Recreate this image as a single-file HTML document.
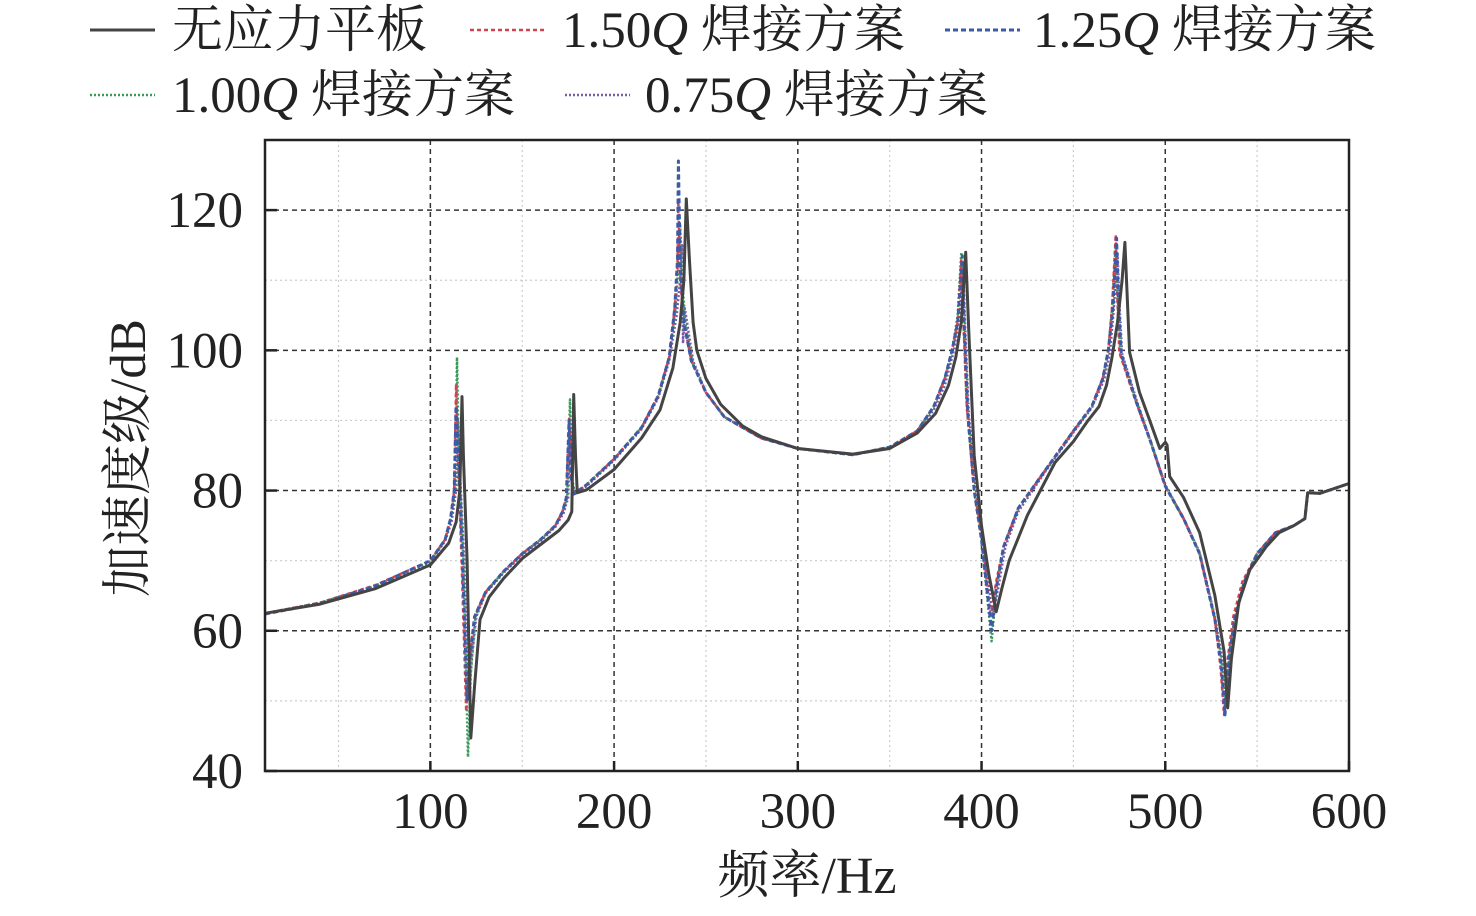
<!DOCTYPE html>
<html><head><meta charset="utf-8"><style>
body{margin:0;background:#fff;width:1476px;height:911px;overflow:hidden}
svg text{font-family:"Liberation Serif","Noto Serif CJK SC",serif;fill:#222}
</style></head><body>
<svg id="chart" width="1476" height="911" xmlns="http://www.w3.org/2000/svg">
<g id="grid"></g>
<g id="series"></g>
<rect x="265" y="140" width="1084" height="631" fill="none" stroke="#222" stroke-width="2.5"/>
<g id="ticks"></g>
<text x="807" y="893" font-size="52" text-anchor="middle">频率/Hz</text>
<text transform="translate(145,458) rotate(-90)" font-size="51" text-anchor="middle">加速度级/dB</text>
<g font-size="51">
 <g><line x1="90" y1="30" x2="155" y2="30" stroke="#444" stroke-width="3"/><text x="172" y="47">无应力平板</text></g>
 <g><line x1="470" y1="30" x2="545" y2="30" stroke="#d0424f" stroke-width="2.5" stroke-dasharray="4,3"/><text x="562" y="47">1.50<tspan font-style="italic">Q</tspan> 焊接方案</text></g>
 <g><line x1="945" y1="30" x2="1020" y2="30" stroke="#3c5aa6" stroke-width="3" stroke-dasharray="5,3"/><text x="1033" y="47">1.25<tspan font-style="italic">Q</tspan> 焊接方案</text></g>
 <g><line x1="90" y1="95" x2="155" y2="95" stroke="#3a9a5a" stroke-width="2.5" stroke-dasharray="2,2"/><text x="172" y="112">1.00<tspan font-style="italic">Q</tspan> 焊接方案</text></g>
 <g><line x1="565" y1="95" x2="630" y2="95" stroke="#7a5aa6" stroke-width="2.5" stroke-dasharray="2,2"/><text x="645" y="112">0.75<tspan font-style="italic">Q</tspan> 焊接方案</text></g>
</g>
</svg>
<script>
const xTicks=[100,200,300,400,500,600];
const yTicks=[40,60,80,100,120];
const xMinor=[50,150,250,350,450,550];
const yMinor=[50,70,90,110,130];
const flatPlate=[[10,62.5],[40,63.8],[70,66],[100,69.4],[110,72.5],[114,75.5],[116,80],[117.2,93.4],[118,85],[120,70],[122,44.7],[124,52],[127,61.6],[132,64.8],[140,67.5],[150,70.3],[160,72.3],[170,74.3],[175,75.8],[177,77],[178,93.7],[179,85],[180,79.7],[185,80.1],[200,83],[215,87.5],[225,91.5],[232,97.5],[236,104],[238,110],[239.3,121.6],[241,113],[243,104],[245,100],[250,96],[258,92.3],[270,89.2],[280,87.7],[300,86],[330,85.2],[350,86],[365,88.2],[375,91],[382,95],[386,99],[389,104],[391.4,114],[393,103],[396,85],[400,75],[404,68],[408,62.7],[411,66],[415,70],[425,76.5],[440,84],[450,87],[458,90],[464,92],[468,95],[471,99],[474,104],[476.5,110],[478,115.4],[480.6,99.7],[486,94],[491.5,90],[497,86],[500,86.9],[501,86.5],[502.4,82],[510,79],[518.7,74],[527,65],[532,57],[534,49],[536,56],[540,64],[546,68.7],[555,72],[562,74],[570,75],[576,76],[577.5,79.7],[584,79.6],[592,80.3],[600,81]];
const weld150=[[10,62.5],[40,64],[70,66.5],[100,70],[108,73],[111,76],[113,80],[114,95.2],[115,85],[117,70],[119.5,48.5],[121,55],[124,62],[130,65.5],[140,68.5],[150,71],[160,73],[168,75],[172,77],[174,79],[175.5,90.5],[176.5,82],[178,79.5],[185,80.8],[200,84.5],[215,89],[224,93.5],[230,99],[233,106],[234.5,112],[235,121],[236,110],[238,104],[242,98.5],[250,94],[260,90.5],[280,87.5],[300,86],[330,85.1],[350,86.2],[365,88.5],[374,92],[380,96],[384,100],[387,104],[389,113],[390,105],[392,92],[396,80],[400,74],[405,62],[408,67],[412,72],[420,77.5],[435,83],[450,88.5],[460,92],[466,96],[469,100],[471,106],[473,116.5],[474,107],[475,99.7],[483.6,93],[491.5,87.3],[500,80.6],[510,76],[518.7,71],[527,61.6],[530,55],[532,48],[534,56],[537,62],[542,67],[550,71],[560,74],[570,75],[576,76],[577.5,79.7],[584,79.6],[592,80.3],[600,81]];
const weld125=[[10,62.4],[40,63.9],[70,66.4],[100,70],[108,73],[111,76],[113,80],[114,92],[115.5,84],[117.5,70],[120,50],[121.5,56],[124,62],[130,65.5],[140,68.5],[150,71],[160,73],[168,75],[172,77],[174,79],[175.5,90],[176.5,82],[178,79.5],[185,80.8],[200,84.5],[215,89],[224,93.5],[230,99],[233,106],[234.5,113],[235,127],[236,112],[238,104],[242,98.5],[250,94],[260,90.5],[280,87.5],[300,86],[330,85.1],[350,86.2],[365,88.5],[374,92],[380,96],[384,100],[387,104],[389.5,113.5],[390.5,104],[392.5,91],[396,80],[400,73],[405.5,60],[408,66],[412,72],[420,77.5],[435,83],[450,88.5],[460,92],[466,96],[469,100],[471.5,106],[473.5,116],[474.5,107],[476,99.5],[484,92.8],[492,87],[500,80.6],[510,76],[518.7,71],[527,61.6],[530.5,55],[532.5,48],[534.5,56],[538,62],[543,67],[550,71],[560,74],[570,75],[576,76],[577.5,79.7],[584,79.6],[592,80.3],[600,81]];
const weld100=[[10,62.5],[40,64],[70,66.4],[100,69.9],[108,73],[111,76],[113.5,80],[114.5,99],[115.5,85],[118,70],[120.5,42],[122,54],[124.5,62],[130,65.5],[140,68.5],[150,71],[160,73],[168,75],[172,77],[174.5,79],[176,93],[177,82],[178.5,79.5],[185,80.8],[200,84.5],[215,89],[224,93.5],[230,99],[233.5,106],[235,112],[236,118],[237,110],[239,103.5],[243,98],[250,94],[260,90.5],[280,87.5],[300,86],[330,85.1],[350,86.2],[365,88.5],[374,92],[380,96],[384,100],[387,105],[389,114],[390,105],[392,92],[396,80],[400,73],[405.5,58.5],[408,66],[412,72],[420,77.5],[435,83],[450,88.5],[460,92],[466,96],[469,100],[471,106],[473,115],[474,107],[475.5,99.5],[484,92.8],[492,87],[500,80.6],[510,76],[518.7,71],[527,61.6],[530.5,56],[533,50],[535,57],[538,62],[543,67],[550,71],[560,74],[570,75],[576,76],[577.5,79.7],[584,79.6],[592,80.3],[600,81]];
const weld075=[[10,62.5],[40,63.9],[70,66.3],[100,69.8],[108,72.8],[111.5,75.5],[114,80],[115,90],[116,83],[118.5,70],[121,50],[122.5,56],[125,62],[130,65.3],[140,68.3],[150,70.8],[160,72.8],[168,74.8],[172.5,76.8],[175,79],[176,88],[177,82],[178.5,79.5],[185,80.6],[200,84.3],[215,88.8],[224,93.2],[230,98.5],[234,105],[236,110],[237,115],[237.5,101],[238.5,106],[243,98.5],[250,94],[260,90.5],[280,87.5],[300,86],[330,85.2],[350,86.1],[365,88.3],[374,91.5],[380,95],[385,100],[388,105],[390,112],[391,104],[393,91],[397,80],[401,73],[406,62],[409,66],[413,72],[420,77],[435,82.8],[450,88.3],[460,91.8],[467,96],[470,100],[472,106],[474,114],[475,107],[476.5,99.5],[484.5,92.8],[492,87],[500,80.8],[510,76],[518.7,71.2],[527,62],[531,56],[533.5,51],[535.5,57],[538.5,62],[543,67],[550,71],[560,74],[570,75],[576,76],[577.5,79.7],[584,79.6],[592,80.3],[600,81]];

const NS="http://www.w3.org/2000/svg";
const X0=265,X1=1349,Y0=771,Y1=140,FMIN=10,FMAX=600,DMIN=40,DMAX=130;
function sx(f){return X0+(f-FMIN)/(FMAX-FMIN)*(X1-X0);}
function sy(d){return Y0-(d-DMIN)/(DMAX-DMIN)*(Y0-Y1);}
function mk(tag,attrs,parent){const e=document.createElementNS(NS,tag);for(const k in attrs)e.setAttribute(k,attrs[k]);parent.appendChild(e);return e;}
const grid=document.getElementById('grid'),ticks=document.getElementById('ticks'),ser=document.getElementById('series');
xMinor.forEach(v=>{const l=mk('line',{x1:sx(v),x2:sx(v),y1:Y1,y2:Y0,stroke:'#ccc','stroke-width':1.2,'stroke-dasharray':'2,3'},grid);

});
yMinor.forEach(v=>{const l=mk('line',{x1:X0,x2:X1,y1:sy(v),y2:sy(v),stroke:'#ccc','stroke-width':1.2,'stroke-dasharray':'2,3'},grid);

});
xTicks.forEach(v=>{const l=mk('line',{x1:sx(v),x2:sx(v),y1:Y1,y2:Y0,stroke:'#333','stroke-width':1.5,'stroke-dasharray':'5,4'},grid);


const t=mk('line',{x1:sx(v),x2:sx(v),y1:Y0,y2:Y0-10,stroke:'#222','stroke-width':2.5},ticks);


const tx=mk('text',{x:sx(v),y:828,'font-size':51,'text-anchor':'middle'},ticks);tx.textContent=v;

});
yTicks.forEach(v=>{if(v>DMIN){const l=mk('line',{x1:X0,x2:X1,y1:sy(v),y2:sy(v),stroke:'#333','stroke-width':1.5,'stroke-dasharray':'5,4'},grid);

}
const t=mk('line',{x1:X0,x2:X0+12,y1:sy(v),y2:sy(v),stroke:'#222','stroke-width':2.5},ticks);


const tx=mk('text',{x:243,y:sy(v)+17,'font-size':51,'text-anchor':'end'},ticks);tx.textContent=v;

});
function draw(data,color,w,dash,name){const d=data.map((p,i)=>(i?'L':'M')+sx(p[0]).toFixed(1)+','+sy(p[1]).toFixed(1)).join('');
const a={d:d,fill:'none',stroke:color,'stroke-width':w,'stroke-linejoin':'round'};if(dash)a['stroke-dasharray']=dash;
const p=mk('path',a,ser);

}
draw(weld075,'#7a5aa6',2.5,'2,2','line-075q');
draw(weld100,'#3a9a5a',2.5,'2,2','line-100q');
draw(weld150,'#d0424f',2.5,'4,3','line-150q');
draw(weld125,'#3c5aa6',3,'5,3','line-125q');
draw(flatPlate,'#444',3,null,'line-flat-plate');
</script>
</body></html>
